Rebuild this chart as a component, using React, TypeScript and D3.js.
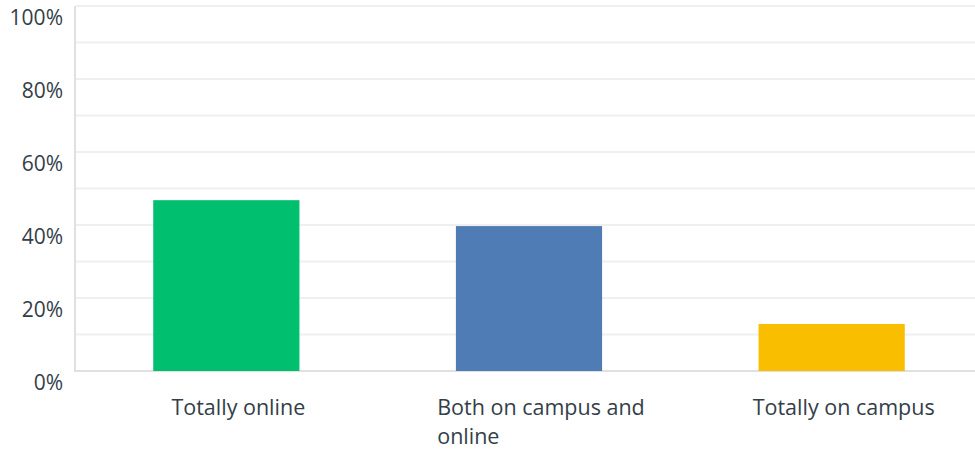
import React, { useEffect, useRef } from "react";
import * as d3 from "d3";

const categories = ["Totally online", "Both on campus and online", "Totally on campus"];
const labelLines = [["Totally online"], ["Both on campus and", "online"], ["Totally on campus"]];
const values = [46.8, 39.7, 12.9];
const colors = ["#00bf6f", "#507cb6", "#f9be00"];
const yTicks = [0, 20, 40, 60, 80, 100];
const gridTicks = [10, 20, 30, 40, 50, 60, 70, 80, 90, 100];

const W = 975;
const H = 451;

export default function App() {
  const ref = useRef<SVGSVGElement | null>(null);

  useEffect(() => {
    const svg = d3.select(ref.current);
    svg.selectAll("*").remove();
    const left = 76;
    const right = 975;
    const y = d3.scaleLinear().domain([0, 100]).range([371, 6]);
    const x = d3.scaleBand<string>().domain(categories).range([75, 983]).paddingInner(0.517).paddingOuter(0.2585);
    const font = "'Open Sans', sans-serif";
    const textColor = "#333e48";

    const g = svg.append("g");
    g.selectAll("line.grid")
      .data(gridTicks)
      .join("line")
      .attr("x1", left)
      .attr("x2", right)
      .attr("y1", (d) => y(d))
      .attr("y2", (d) => y(d))
      .attr("stroke", "#efefef")
      .attr("stroke-width", 2);

    g.append("line")
      .attr("x1", left - 1)
      .attr("x2", left - 1)
      .attr("y1", 6)
      .attr("y2", 371)
      .attr("stroke", "#e0e0e0")
      .attr("stroke-width", 2);
    g.append("line")
      .attr("x1", left - 2)
      .attr("x2", right)
      .attr("y1", 371)
      .attr("y2", 371)
      .attr("stroke", "#e0e0e0")
      .attr("stroke-width", 2);

    g.selectAll("rect.bar")
      .data(values)
      .join("rect")
      .attr("x", (_d, i) => x(categories[i])!)
      .attr("width", x.bandwidth())
      .attr("y", (d) => y(d))
      .attr("height", (d) => y(0) - y(d))
      .attr("fill", (_d, i) => colors[i]);

    g.selectAll("text.ytick")
      .data(yTicks)
      .join("text")
      .attr("x", 63)
      .attr("y", (d) => y(d) + 11)
      .attr("text-anchor", "end")
      .attr("dominant-baseline", "central")
      .attr("font-family", font)
      .attr("font-size", 21)
      .attr("fill", textColor)
      .text((d) => `${d}%`);

    labelLines.forEach((lines, i) => {
      const cx = x(categories[i])! + x.bandwidth() / 2 + 12;
      const t = g
        .append("text")
        .attr("font-family", font)
        .attr("font-size", 21.5)
        .attr("fill", textColor)
        .attr("y", 415);
      lines.forEach((ln, j) => {
        t.append("tspan").attr("dy", j === 0 ? 0 : 29).text(ln);
      });
      const first = t.select("tspan").node() as SVGTSpanElement;
      const w = first.getComputedTextLength();
      t.selectAll("tspan").attr("x", cx - w / 2);
    });
  }, []);

  return (
    <svg ref={ref} width={W} height={H} style={{ position: "absolute", left: 0, top: 0, background: "#fff" }} />
  );
}
